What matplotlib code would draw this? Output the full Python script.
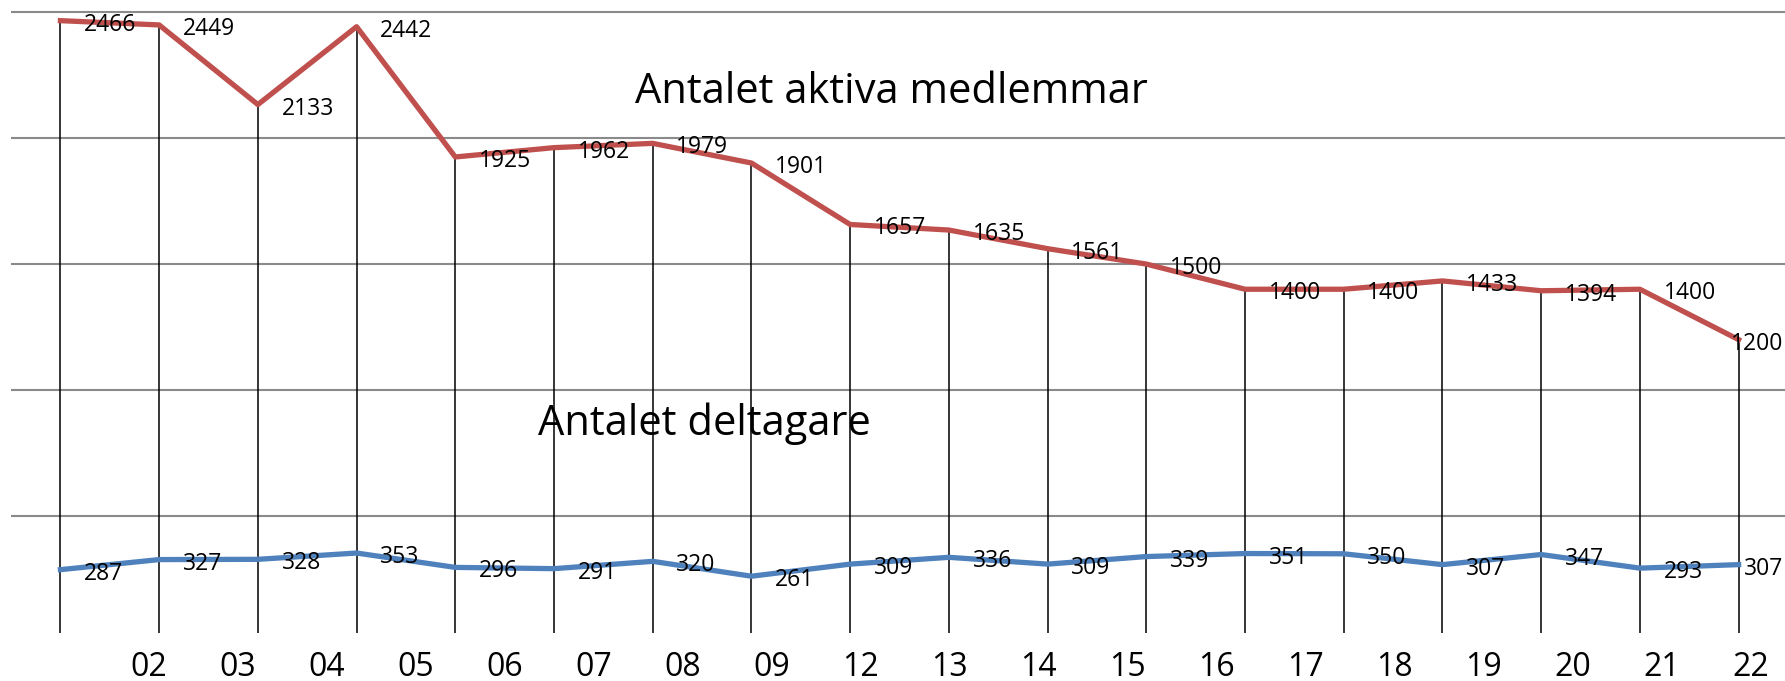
import matplotlib
matplotlib.use("Agg")
import matplotlib.pyplot as plt
import numpy as np

plt.rcParams['font.family'] = ['Open Sans', 'DejaVu Sans']

# x axis labels (year)
years = ["02", "03", "04", "05", "06", "07", "08", "09", "12", "13",
         "14", "15", "16", "17", "18", "19", "20", "21", "22"]

# active members
members = [2466, 2449, 2133, 2442, 1925, 1962, 1979, 1901, 1657, 1635,
           1561, 1500, 1400, 1400, 1433, 1394, 1400, 1200]

# participants
participants = [287, 327, 328, 353, 296, 291, 320, 261, 309, 336,
                309, 339, 351, 350, 307, 347, 293, 307]

RED = "#C0504D"
BLUE = "#4F81BD"

fig = plt.figure(figsize=(17.85, 6.81), dpi=100)
ax = fig.add_axes([0.0062, 0.071, 0.9938, 0.929])
n = len(members)
x = np.arange(n)
ax.set_xlim(-0.5, n - 0.53)
ax.set_ylim(37, 2548)

# horizontal gridlines, no axis decoration
ax.set_yticks([500, 1000, 1500, 2000, 2500])
ax.yaxis.grid(True, color="#8a8a8a", linewidth=1.5)
ax.set_axisbelow(True)
ax.tick_params(axis="y", left=False, labelleft=False)
for s in ax.spines.values():
    s.set_visible(False)

# drop lines from the top series down to the bottom of the plot
ax.vlines(x, ax.get_ylim()[0], members, color="black", linewidth=1.1, zorder=2)

ax.plot(x, members, color=RED, linewidth=3.8, solid_joinstyle="round", zorder=3)
ax.plot(x, participants, color=BLUE, linewidth=3.8, solid_joinstyle="round", zorder=3)

# data labels, to the right of each point
labels = []
for series in (members, participants):
    for xi, v in zip(x, series):
        t = ax.annotate(str(v), (xi, v), xytext=(17, -7.2),
                        textcoords="offset points", ha="left", va="baseline",
                        fontsize=16.5, zorder=4)
        labels.append(t)

# keep labels inside the figure (like Excel does)
fig.canvas.draw()
r = fig.canvas.get_renderer()
fig_w = fig.bbox.width
for t in labels:
    bb = t.get_window_extent(r)
    if bb.x1 > fig_w - 2:
        dx, dy = t.xyann
        shift = (bb.x1 - (fig_w - 2)) * 72 / fig.dpi
        t.xyann = (dx - shift, dy)

# series names
ax.text(8.416, 2138, "Antalet aktiva medlemmar", ha="center", va="baseline",
        fontsize=30, zorder=4)
ax.text(6.527, 821, "Antalet deltagare", ha="center", va="baseline",
        fontsize=30, zorder=4)

# year labels
ax.set_xticks(np.linspace(0.89, 17.12, len(years)))
ax.set_xticklabels(years, fontsize=23)
ax.tick_params(axis="x", length=0, pad=13)

fig.savefig("out.png", dpi=100)
